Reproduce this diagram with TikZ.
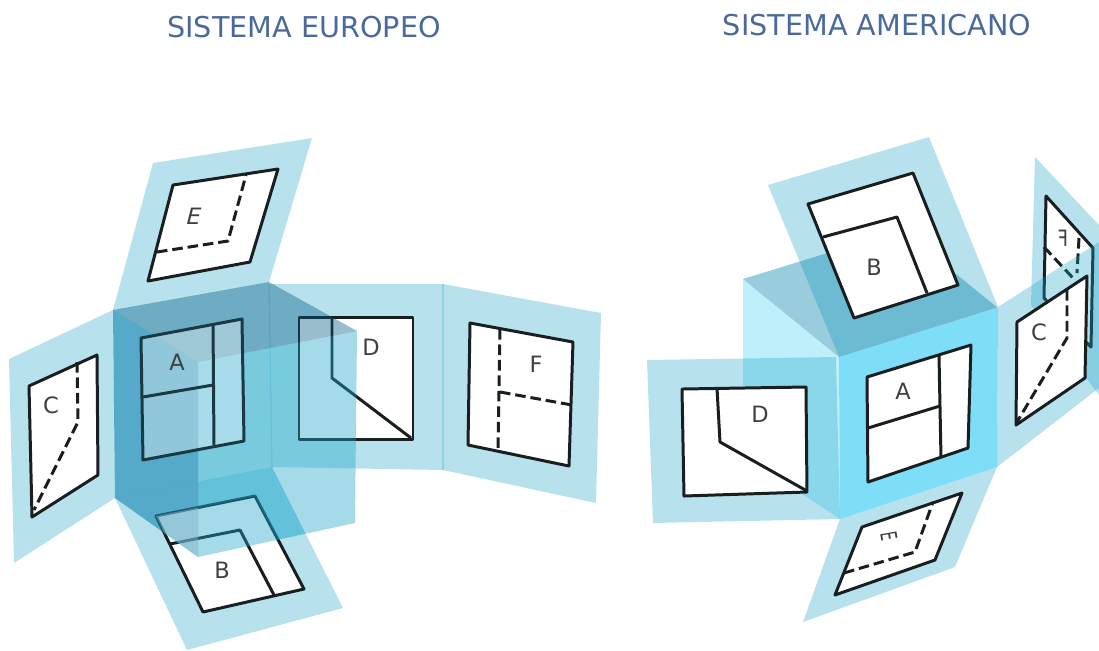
\documentclass[tikz,border=0pt]{standalone}
\usepackage{fontspec}
\setmainfont{DejaVu Sans}
\definecolor{titleblue}{RGB}{74,106,156}
\definecolor{planeblue}{RGB}{30,165,200}
\definecolor{roofblue}{RGB}{0,92,130}
\definecolor{wallblue}{RGB}{20,133,175}
\definecolor{cubecyan}{RGB}{0,190,240}
\definecolor{roofcyan}{RGB}{0,130,170}
\definecolor{inkline}{RGB}{25,30,32}
\tikzset{
	sheet/.style={fill=planeblue, fill opacity=0.32},
	panel/.style={draw=inkline, line width=0.85pt, fill=white, line join=round},
	edge/.style={draw=inkline, line width=0.85pt, line join=round},
	hidden/.style={draw=inkline, line width=0.85pt, dash pattern=on 3pt off 1.4pt, line join=round},
	fold/.style={draw=planeblue, line width=0.3pt, draw opacity=0.25},
	tag/.style={text=black!75, font=\fontsize{6.4}{8}\selectfont, inner sep=0pt},
	heading/.style={text=titleblue, font=\fontsize{8.15}{10}\selectfont, inner sep=0pt}
}
\begin{document}
\begin{tikzpicture}[x=0.01cm, y=-0.01cm]
	\useasboundingbox (0,0) rectangle (1099,650);

	\node[heading] (titleeu) at (304,27) {SISTEMA EUROPEO};
	\node[heading] (titleam) at (877,25) {SISTEMA AMERICANO};

	\begin{scope}
		\fill[sheet] (113,310) -- (153,163) -- (312,138) -- (269,282) -- cycle;
		\fill[sheet] (113,310) -- (9,359) -- (14,563) -- (115,498) -- cycle;
		\fill[sheet] (115,498) -- (272,467) -- (343,608) -- (187,650) -- cycle;
		\fill[sheet] (113,310) -- (269,282) -- (272,467) -- (115,498) -- cycle;
		\fill[sheet] (269,284) -- (443,284) -- (443,470) -- (272,467) -- cycle;
		\fill[sheet] (443,284) -- (601,313) -- (596,503) -- (443,470) -- cycle;
		\draw[fold] (443,284) -- (443,470);
		\draw[fold] (269,284) -- (272,467);

		\draw[panel] (173,185) -- (278,169) -- (250,262) -- (148,281) -- cycle;
		\draw[hidden] (157,252) -- (228,241) -- (246,175);
		\node[tag, xslant=0.25] (labeleu) at (194,216) {E};

		\draw[panel] (29,386) -- (97,355) -- (98,475) -- (32,517) -- cycle;
		\draw[hidden] (77,362) -- (78,422) -- (34,510);
		\node[tag] (labelcu) at (51,405) {C};

		\draw[panel] (156,516) -- (255,496) -- (304,589) -- (203,612) -- cycle;
		\draw[edge] (170,544) -- (240,530) -- (274,595);
		\node[tag] (labelbu) at (222,570) {B};

		\draw[panel] (299,317) -- (413,317) -- (413,439) -- (299,439) -- cycle;
		\draw[edge] (332,317) -- (332,378) -- (411,438);
		\node[tag] (labeldu) at (371,347) {D};

		\draw[panel] (470,323) -- (573,342) -- (569,466) -- (468,445) -- cycle;
		\draw[hidden] (500,329) -- (498,450);
		\draw[hidden] (500,392) -- (572,405);
		\node[tag] (labelfu) at (536,364) {F};

		% cube
		\fill[planeblue, fill opacity=0.4] (198,362) -- (357,331) -- (355,523) -- (198,557) -- cycle;
		\begin{scope}
			\clip (198,362) -- (357,331) -- (355,523) -- (198,557) -- cycle;
			\fill[planeblue, fill opacity=0.25, even odd rule] (115,498) -- (272,467) -- (343,608) -- (187,650) -- cycle (156,516) -- (255,496) -- (304,589) -- (203,612) -- cycle;
		\end{scope}
		\fill[wallblue, fill opacity=0.6] (113,310) -- (198,362) -- (198,557) -- (115,498) -- cycle;
		\fill[roofblue, fill opacity=0.4] (113,310) -- (269,282) -- (357,331) -- (198,362) -- cycle;
		\begin{scope}
			\clip (113,310) -- (198,362) -- (198,557) -- (115,498) -- cycle;
			\fill[white, fill opacity=0.25] (156,516) -- (255,496) -- (304,589) -- (203,612) -- cycle;
		\end{scope}

		\fill[white, fill opacity=0.35] (141,338) -- (242,319) -- (244,441) -- (143,460) -- cycle;
		\draw[edge, draw=inkline!80!planeblue] (141,338) -- (242,319) -- (244,441) -- (143,460) -- cycle;
		\draw[edge, draw=inkline!80!planeblue] (213,323) -- (214,445);
		\draw[edge, draw=inkline!80!planeblue] (143,397) -- (213,385);
		\node[tag] (labelau) at (177,362) {A};
	\end{scope}

	\begin{scope}
		\fill[sheet] (1035,157) -- (1099,225) -- (1099,395) -- (1031,305) -- cycle;
		\draw[panel] (1046,196) -- (1093,248) -- (1091,347) -- (1044,298) -- cycle;
		\draw[hidden] (1044,247) -- (1073,278);
		\draw[hidden] (1079,238) -- (1077,273);
		\node[tag, xscale=-0.8] (labelfa) at (1063,238) {F};

		\fill[sheet] (998,307) -- (1099,242) -- (1099,388) -- (997,467) -- cycle;
		\draw[panel] (1017,322) -- (1087,276) -- (1085,378) -- (1016,425) -- cycle;
		\draw[hidden] (1067,290) -- (1067,338) -- (1017,422);
		\node[tag] (labelca) at (1039,332) {C};

		\fill[cubecyan, fill opacity=0.25] (743,279) -- (839,357) -- (840,519) -- (743,455) -- cycle;
		\fill[sheet] (647,360) -- (836,357) -- (840,519) -- (653,523) -- cycle;
		\draw[panel] (682,389) -- (806,387) -- (807,492) -- (684,496) -- cycle;
		\draw[edge] (717,388) -- (720,442) -- (807,491);
		\node[tag] (labelda) at (760,414) {D};

		\fill[sheet] (768,185) -- (929,137) -- (998,307) -- (839,357) -- cycle;
		\fill[roofcyan, fill opacity=0.4] (743,279) -- (902,230) -- (998,308) -- (839,357) -- cycle;
		\draw[panel] (808,204) -- (913,173) -- (958,285) -- (854,318) -- cycle;
		\draw[edge] (823,237) -- (897,217) -- (927,293);
		\node[tag] (labelba) at (874,267) {B};

		\fill[sheet] (840,519) -- (997,467) -- (955,567) -- (803,622) -- cycle;
		\draw[panel] (862,527) -- (962,493) -- (935,560) -- (835,595) -- cycle;
		\draw[hidden] (844,573) -- (915,552) -- (933,502);
		\node[tag, rotate=-80, xscale=0.6] (labelea) at (889,536) {E};

		\fill[cubecyan, fill opacity=0.5] (839,357) -- (998,308) -- (997,467) -- (840,519) -- cycle;
		\draw[panel] (867,377) -- (971,345) -- (968,448) -- (868,482) -- cycle;
		\draw[edge] (939,355) -- (941,458);
		\draw[edge] (868,428) -- (940,406);
		\node[tag] (labelaa) at (903,391) {A};
	\end{scope}
\end{tikzpicture}
\end{document}
